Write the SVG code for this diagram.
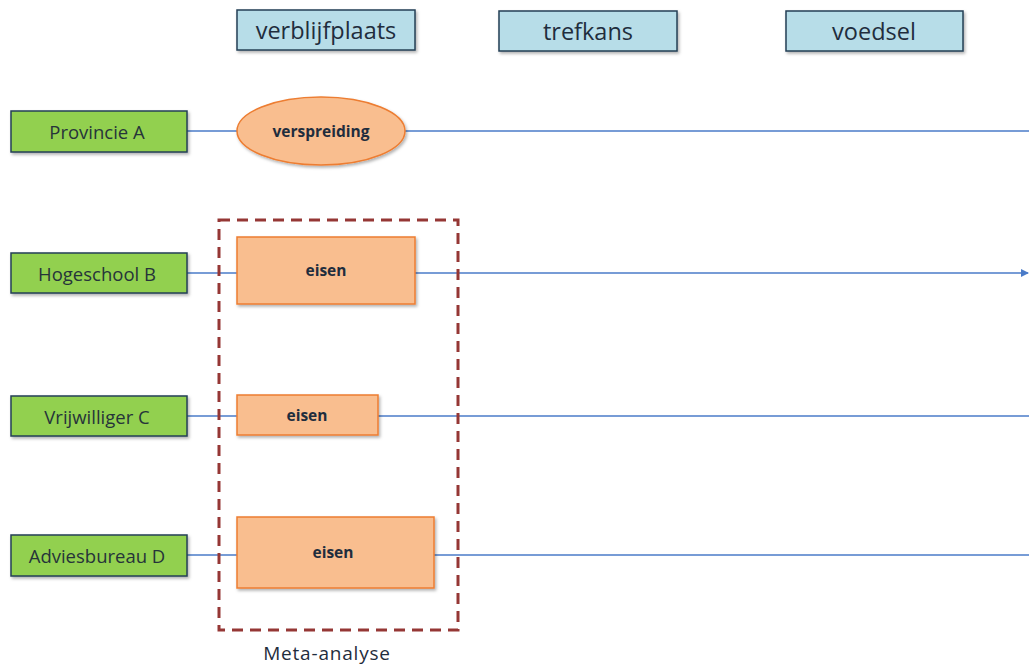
<svg xmlns="http://www.w3.org/2000/svg" width="1029" height="664" viewBox="0 0 1029 664">
  <style>
    .hdr { fill: #b7dde8; stroke: #243f55; stroke-width: 1.5; }
    .org { fill: #92d050; stroke: #243f55; stroke-width: 1.5; }
    .act { fill: #f9be8f; stroke: #ed7d31; stroke-width: 1.5; }
    .line { stroke: #4a7bc8; stroke-width: 1.3; fill: none; }
    .meta { fill: none; stroke: #953735; stroke-width: 3; stroke-dasharray: 11 7; }
    text { font-family: "Open Sans", "Liberation Sans", sans-serif; fill: #1f2d3d; text-anchor: middle; dominant-baseline: central; }
    .th { font-size: 23.5px; }
    .tl { font-size: 18.5px; fill: #26343a; }
    .tb { font-size: 15.5px; font-weight: bold; }
    .tm { font-size: 19px; letter-spacing: 0.8px; }
  </style>
  <defs>
    <filter id="shadow" x="-10%" y="-10%" width="130%" height="140%">
      <feDropShadow dx="1.5" dy="2" stdDeviation="1.5" flood-color="#000" flood-opacity="0.3"/>
    </filter>
    <marker id="arrow" markerWidth="8" markerHeight="8" refX="7" refY="4" orient="auto" markerUnits="userSpaceOnUse">
      <path d="M0,0 L8,4 L0,8 Z" fill="#4a7bc8"/>
    </marker>
  </defs>

  <g id="connectors">
    <line class="line" x1="187" y1="131" x2="237" y2="131"/>
    <line class="line" x1="405" y1="131" x2="1029" y2="131"/>
    <line class="line" x1="187" y1="273" x2="237" y2="273"/>
    <line class="line" x1="415" y1="273" x2="1028" y2="273" marker-end="url(#arrow)"/>
    <line class="line" x1="187" y1="416" x2="237" y2="416"/>
    <line class="line" x1="378" y1="416" x2="1029" y2="416"/>
    <line class="line" x1="187" y1="555" x2="237" y2="555"/>
    <line class="line" x1="434" y1="555" x2="1029" y2="555"/>
  </g>

  <g id="header-verblijfplaats">
    <rect class="hdr" x="237" y="10" width="178" height="40" filter="url(#shadow)"/>
    <text class="th" x="326" y="30">verblijfplaats</text>
  </g>
  <g id="header-trefkans">
    <rect class="hdr" x="499" y="11" width="178" height="40" filter="url(#shadow)"/>
    <text class="th" x="588" y="31">trefkans</text>
  </g>
  <g id="header-voedsel">
    <rect class="hdr" x="786" y="11" width="177" height="40" filter="url(#shadow)"/>
    <text class="th" x="874" y="31">voedsel</text>
  </g>

  <g id="provincie-a">
    <rect class="org" x="11" y="111" width="176" height="41" filter="url(#shadow)"/>
    <text class="tl" x="97" y="131">Provincie A</text>
  </g>
  <g id="hogeschool-b">
    <rect class="org" x="11" y="253" width="176" height="40" filter="url(#shadow)"/>
    <text class="tl" x="97" y="273">Hogeschool B</text>
  </g>
  <g id="vrijwilliger-c">
    <rect class="org" x="11" y="396" width="176" height="40" filter="url(#shadow)"/>
    <text class="tl" x="97" y="416">Vrijwilliger C</text>
  </g>
  <g id="adviesbureau-d">
    <rect class="org" x="11" y="535" width="176" height="41" filter="url(#shadow)"/>
    <text class="tl" x="97" y="555">Adviesbureau D</text>
  </g>

  <g id="verspreiding">
    <ellipse class="act" cx="321" cy="131" rx="84" ry="34" filter="url(#shadow)"/>
    <text class="tb" x="321" y="131">verspreiding</text>
  </g>
  <g id="eisen-b">
    <rect class="act" x="237" y="237" width="178" height="67" filter="url(#shadow)"/>
    <text class="tb" x="326" y="270">eisen</text>
  </g>
  <g id="eisen-c">
    <rect class="act" x="237" y="395" width="141" height="40" filter="url(#shadow)"/>
    <text class="tb" x="307" y="415">eisen</text>
  </g>
  <g id="eisen-d">
    <rect class="act" x="237" y="517" width="197" height="71" filter="url(#shadow)"/>
    <text class="tb" x="333" y="552">eisen</text>
  </g>

  <g id="meta-analyse">
    <rect class="meta" x="219" y="220" width="239" height="410"/>
    <text class="tm" x="327" y="653">Meta-analyse</text>
  </g>
</svg>
